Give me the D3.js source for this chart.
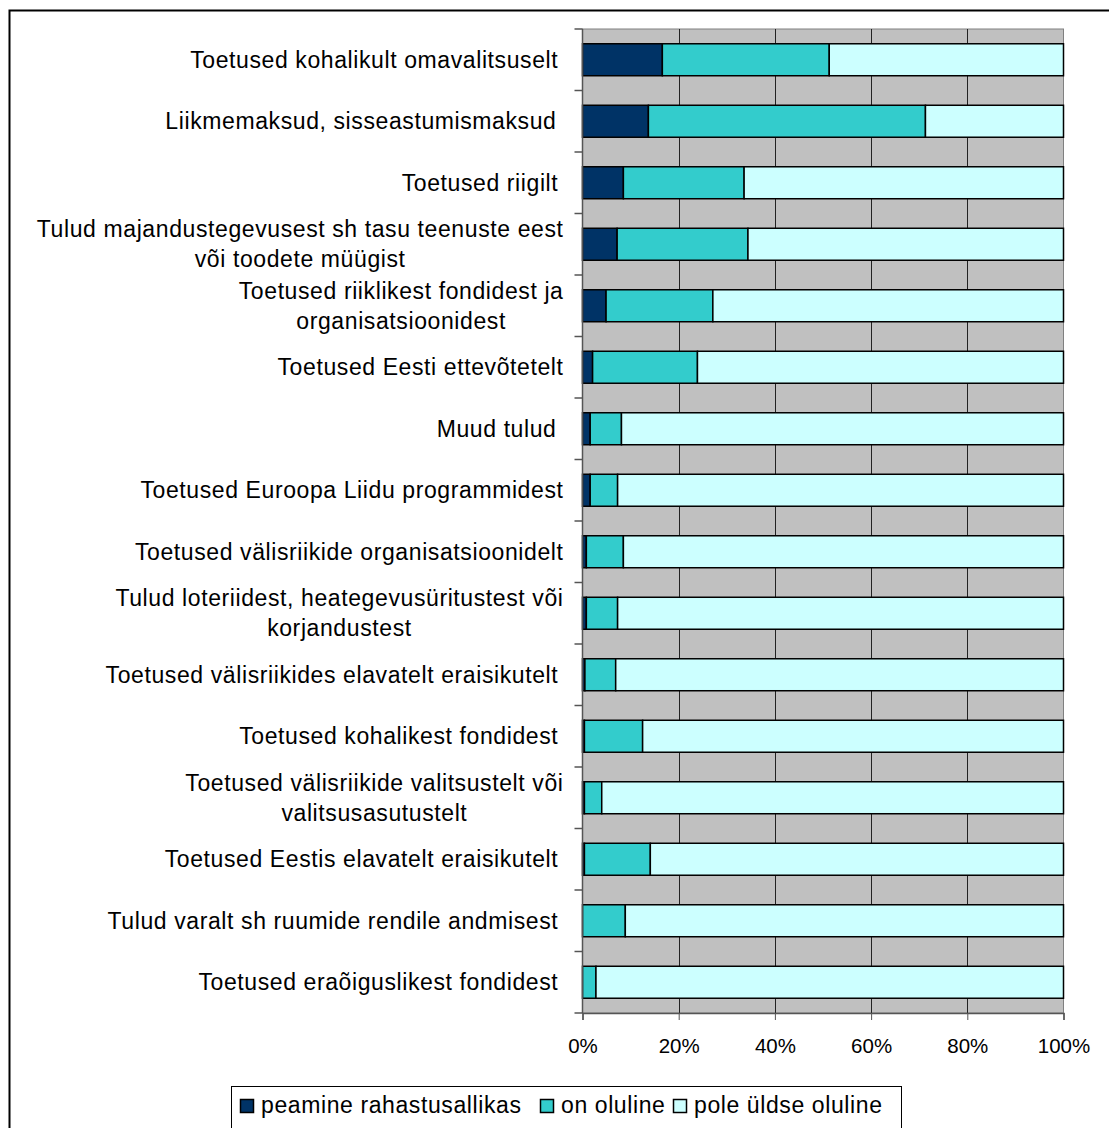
<!DOCTYPE html>
<html>
<head>
<meta charset="utf-8">
<script src="https://cdn.jsdelivr.net/npm/d3@7"></script>
<style>
  html, body { margin: 0; padding: 0; background: #fff; }
  svg { display: block; font-family: "Liberation Sans", Arial, sans-serif; }
  .lbl { white-space: pre; }
</style>
</head>
<body>
<svg id="chart" width="1109" height="1128"></svg>
<script>
// ---- data ----
const categories = [
  ["Toetused kohalikult omavalitsuselt\u2009"],
  ["Liikmemaksud, sisseastumismaksud "],
  ["Toetused riigilt\u2009"],
  ["Tulud majandustegevusest sh tasu teenuste eest", "või toodete müügist"],
  ["Toetused riiklikest fondidest ja", "organisatsioonidest"],
  ["Toetused Eesti ettevõtetelt"],
  ["Muud tulud "],
  ["Toetused Euroopa Liidu programmidest"],
  ["Toetused välisriikide organisatsioonidelt"],
  ["Tulud loteriidest, heategevusüritustest või", "korjandustest"],
  ["Toetused välisriikides elavatelt eraisikutelt\u2009"],
  ["Toetused kohalikest fondidest\u2009"],
  ["Toetused välisriikide valitsustelt või", "valitsusasutustelt"],
  ["Toetused Eestis elavatelt eraisikutelt\u2009"],
  ["Tulud varalt sh ruumide rendile andmisest\u2009"],
  ["Toetused eraõiguslikest fondidest\u2009"]
];
const seriesNames = ["peamine rahastusallikas", "on oluline", "pole üldse oluline"];
const peamine = [16.6, 13.7, 8.5, 7.2, 4.9, 2.1, 1.6, 1.6, 0.8, 0.8, 0.5, 0.4, 0.4, 0.4, 0.0, 0.0];
const oluline = [34.7, 57.6, 25.1, 27.2, 22.2, 21.8, 6.5, 5.7, 7.7, 6.5, 6.4, 12.1, 3.6, 13.7, 8.9, 2.8];
const pole    = [48.7, 28.7, 66.4, 65.6, 72.9, 76.1, 91.9, 92.7, 91.5, 92.7, 93.1, 87.5, 96.0, 85.9, 91.1, 97.2];
const xTicks = [0, 20, 40, 60, 80, 100];
const colors = ["#003366", "#33CCCC", "#CCFFFF"];

// ---- layout ----
const svg = d3.select("#chart");
const plot = { left: 582.5, right: 1063.5, top: 29, bottom: 1013 };
const fontSize = 23, letterSp = 0.6;

// outer chart border
svg.append("rect")
  .attr("x", 9.5).attr("y", 10.5)
  .attr("width", 1200).attr("height", 1200)
  .attr("fill", "none").attr("stroke", "#000").attr("stroke-width", 2);

const x = d3.scaleLinear().domain([0, 100]).range([plot.left, plot.right]);
const idx = d3.range(categories.length);
const y = d3.scaleBand().domain(idx).range([plot.top, plot.bottom]).paddingInner(0.48).paddingOuter(0.24);
const yBand = d3.scaleBand().domain(idx).range([plot.top, plot.bottom]);

// plot background
svg.append("rect")
  .attr("x", plot.left).attr("y", plot.top)
  .attr("width", plot.right - plot.left).attr("height", plot.bottom - plot.top)
  .attr("fill", "#C0C0C0").attr("stroke", "#808080").attr("stroke-width", 1);

// gridlines
svg.append("g").selectAll("line").data(xTicks.slice(1, -1)).join("line")
  .attr("x1", d => Math.round(x(d)) + 0.5).attr("x2", d => Math.round(x(d)) + 0.5)
  .attr("y1", plot.top).attr("y2", plot.bottom)
  .attr("stroke", "#222").attr("stroke-width", 1);

// stacked bars
const rows = idx.map(i => ({ i, vals: [peamine[i], oluline[i], pole[i]] }));
const stackData = rows.map(r => {
  let acc = 0;
  return r.vals.map((v, k) => { const s = acc; acc += v; return { i: r.i, k, x0: s, x1: acc, v }; });
}).flat().filter(d => d.v > 0);

svg.append("g").selectAll("rect").data(stackData).join("rect")
  .attr("x", d => x(d.x0)).attr("width", d => x(d.x1) - x(d.x0))
  .attr("y", d => y(d.i)).attr("height", y.bandwidth())
  .attr("fill", d => colors[d.k])
  .attr("stroke", "#000").attr("stroke-width", 1.5);

// x axis
const xAxis = svg.append("g").attr("transform", `translate(0,${plot.bottom})`)
  .call(d3.axisBottom(x).tickValues(xTicks).tickFormat(d => d + "%").tickSize(7).tickPadding(18));
xAxis.select(".domain").attr("stroke", "#555").attr("stroke-width", 1.5);
xAxis.selectAll(".tick line").attr("stroke", "#555");
xAxis.selectAll("text").attr("font-size", 20.5).attr("fill", "#000")
  .attr("font-family", "'Liberation Sans', Arial, sans-serif");

// y axis (ticks at category boundaries)
const yAxisG = svg.append("g");
yAxisG.append("line").attr("x1", plot.left).attr("x2", plot.left)
  .attr("y1", plot.top).attr("y2", plot.bottom).attr("stroke", "#555").attr("stroke-width", 1.5);
yAxisG.selectAll("line.t").data(d3.range(categories.length + 1)).join("line").attr("class", "t")
  .attr("x1", plot.left - 8).attr("x2", plot.left)
  .attr("y1", d => plot.top + d * yBand.step()).attr("y2", d => plot.top + d * yBand.step())
  .attr("stroke", "#555").attr("stroke-width", 1.5);

// category labels
const labelRight = 563.5;
const lineH = 30;
const lblG = svg.append("g");
categories.forEach((lines, i) => {
  const cy = yBand(i) + yBand.bandwidth() / 2;
  const n = lines.length;
  const t = lblG.append("text").attr("class", "lbl")
    .attr("font-size", fontSize).attr("letter-spacing", letterSp).attr("fill", "#000");
  const spans = lines.map((ln, j) => t.append("tspan").text(ln)
    .attr("y", cy + (j - (n - 1) / 2) * lineH + 8));
  const widths = spans.map(s => s.node().getComputedTextLength());
  const maxW = d3.max(widths);
  const centerX = labelRight - maxW / 2;
  spans.forEach(s => s.attr("x", centerX).attr("text-anchor", "middle"));
});

// legend
const lg = svg.append("g");
lg.append("rect").attr("x", 231.5).attr("y", 1086.5).attr("width", 670).attr("height", 60)
  .attr("fill", "#fff").attr("stroke", "#000").attr("stroke-width", 1);
const legendX = [240, 540, 673];
seriesNames.forEach((name, k) => {
  lg.append("rect").attr("x", legendX[k] + 0.5).attr("y", 1099.5).attr("width", 13).attr("height", 13)
    .attr("fill", colors[k]).attr("stroke", "#000").attr("stroke-width", 1.5);
  lg.append("text").attr("x", legendX[k] + 21).attr("y", 1113)
    .attr("font-size", fontSize).attr("letter-spacing", letterSp).attr("fill", "#000").text(name);
});
</script>
</body>
</html>
